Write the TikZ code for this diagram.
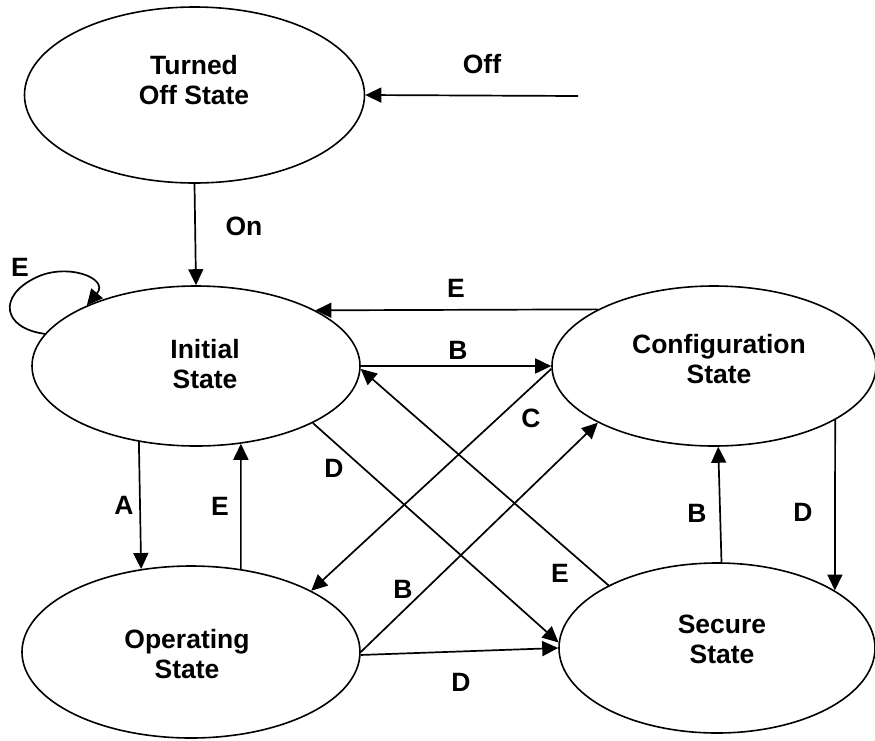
\documentclass[tikz,border=0pt]{standalone}
\usepackage{fontspec}
\setmainfont{Liberation Sans}
\usetikzlibrary{shapes.geometric,arrows.meta}
\begin{document}
\begin{tikzpicture}[x=1pt,y=-1pt,
  state/.style={draw, ellipse, line width=1.6pt, inner sep=0pt},
  txt/.style={font=\fontsize{26.5}{30}\selectfont\bfseries, align=center, inner sep=0pt},
  lbl/.style={font=\fontsize{26.5}{30}\selectfont\bfseries, inner sep=0pt},
  tr/.style={-{Triangle[length=16pt,width=15pt]}, line width=1.7pt}]
\useasboundingbox (0,0) rectangle (875,740);

% states
\node[state, minimum width=340pt, minimum height=176pt] (T) at (194.5,95) {};
\node[state, minimum width=328pt, minimum height=160pt] (I) at (196,366) {};
\node[state, minimum width=324pt, minimum height=160pt] (C) at (714,366) {};
\node[state, minimum width=338pt, minimum height=172pt] (O) at (191,652) {};
\node[state, minimum width=316pt, minimum height=170pt] (S) at (717,648) {};

% state names
\node[txt] (tT) at (194,80)  {Turned\\Off State};
\node[txt] (tI) at (205,364) {Initial\\State};
\node[txt] (tC) at (719,359) {Configuration\\State};
\node[txt] (tO) at (187,654) {Operating\\State};
\node[txt] (tS) at (722,639) {Secure\\State};

% transitions
\coordinate (offsrc) at (578,96);
\draw[tr] (offsrc) -- (T.east);
\draw[tr] (T.south) -- (I.north);
\draw[tr] (I.168) .. controls (2,328) and (-2,296) .. (35,278)
          .. controls (66,262) and (110,278) .. (I.151);
\draw[tr] (C.154.2) -- (I.25.6);
\draw[tr] (I.east) -- (C.west);
\draw[tr] (C.181) -- (O.27);
\draw[tr] (S.150) -- (I.-1.5);
\draw[tr] (I.-26) -- (S.178);
\draw[tr] (I.233.3) -- (O.121.9);
\draw[tr] (O.59.8) -- (I.-60.9);
\draw[tr] (O.east) -- (C.206);
\draw[tr] (O.-1) -- (S.west);
\draw[tr] (S.87) -- (C.-87);
\draw[tr] (C.-24.2) -- (S.26);

% transition labels
\node[lbl] (lOff) at (482,64)  {Off};
\node[lbl] (lOn)  at (244,226) {On};
\node[lbl] (lE1)  at (20,267)  {E};
\node[lbl] (lE2)  at (456,288) {E};
\node[lbl] (lB1)  at (458,350) {B};
\node[lbl] (lC)   at (531,418) {C};
\node[lbl] (lD1)  at (334,468) {D};
\node[lbl] (lA)   at (124,505) {A};
\node[lbl] (lE3)  at (220,506) {E};
\node[lbl] (lB2)  at (403,589) {B};
\node[lbl] (lD2)  at (461,682) {D};
\node[lbl] (lE4)  at (560,573) {E};
\node[lbl] (lB3)  at (697,513) {B};
\node[lbl] (lD3)  at (803,512) {D};
\end{tikzpicture}
\end{document}
